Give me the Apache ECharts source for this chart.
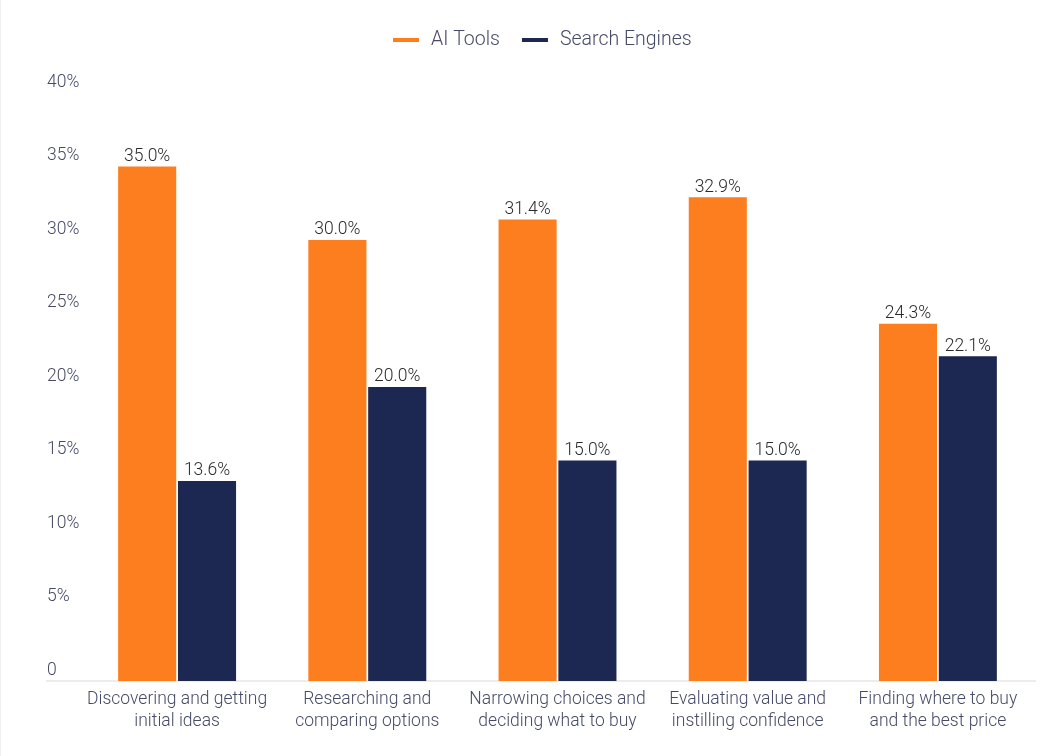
<!DOCTYPE html>
<html>
<head>
<meta charset="utf-8">
<script src="https://cdn.jsdelivr.net/npm/echarts@6/dist/echarts.min.js"></script>
<style>
  html, body { margin: 0; padding: 0; background: #fff; }
  #container { width: 1041px; height: 756px; box-sizing: border-box; border-left: 1px solid #f0f0f0; }
</style>
</head>
<body>
<div id="container"></div>
<script>
// data
var categories = [
  'Discovering and getting\ninitial ideas',
  'Researching and\ncomparing options',
  'Narrowing choices and\ndeciding what to buy',
  'Evaluating value and\ninstilling confidence',
  'Finding where to buy\nand the best price'
];
var aiTools = [35.0, 30.0, 31.4, 32.9, 24.3];
var searchEngines = [13.6, 20.0, 15.0, 15.0, 22.1];
var seriesNames = ['AI Tools', 'Search Engines'];

var textColor = '#454a66';
var color = ['#fd7e1e', '#1c2752'];

var dom = document.getElementById('container');
var myChart = echarts.init(dom);

var valueLabel = {
  show: true,
  position: 'top',
  distance: 1,
  fontSize: 17.5,
  fontWeight: 300,
  color: '#2a2a2a',
  fontFamily: 'Roboto',
  formatter: function (p) { return p.value.toFixed(1) + '%'; }
};

var option = {
  backgroundColor: '#fff',
  color: color,
  textStyle: { fontFamily: 'Roboto' },
  legend: {
    top: 25,
    left: 387,
    itemWidth: 26,
    itemHeight: 4,
    itemGap: 22,
    icon: 'rect',
    textStyle: { fontSize: 19.5, fontWeight: 300, color: textColor, fontFamily: 'Roboto', padding: [0, 0, 0, 7] },
    data: seriesNames
  },
  grid: { left: 81, right: 8, top: 93, bottom: 75 },
  xAxis: {
    type: 'category',
    data: categories,
    axisLine: { show: false },
    axisTick: { show: false },
    axisLabel: {
      interval: 0,
      margin: 8,
      fontSize: 17.5,
      fontWeight: 300,
      lineHeight: 22,
      color: textColor,
      fontFamily: 'Roboto'
    }
  },
  yAxis: {
    type: 'value',
    min: 0,
    max: 40,
    interval: 5,
    splitLine: { show: false },
    axisLine: { show: false },
    axisTick: { show: false },
    axisLabel: {
      align: 'left',
      margin: 35,
      verticalAlign: 'bottom',
      lineHeight: 21,
      fontSize: 17.5,
      fontWeight: 300,
      color: textColor,
      fontFamily: 'Roboto',
      formatter: function (v) { return v === 0 ? '0' : v + '%'; }
    }
  },
  graphic: [{
    type: 'line',
    shape: { x1: 45, y1: 681, x2: 1035, y2: 681 },
    style: { stroke: '#e6e6e6', lineWidth: 1.5 },
    z: 0
  }],
  series: [
    {
      name: seriesNames[0],
      type: 'bar',
      data: aiTools,
      barGap: '3%',
      barCategoryGap: '38%',
      label: valueLabel
    },
    {
      name: seriesNames[1],
      type: 'bar',
      data: searchEngines,
      barGap: '3%',
      barCategoryGap: '38%',
      label: valueLabel
    }
  ]
};

myChart.setOption(option);
</script>
</body>
</html>
